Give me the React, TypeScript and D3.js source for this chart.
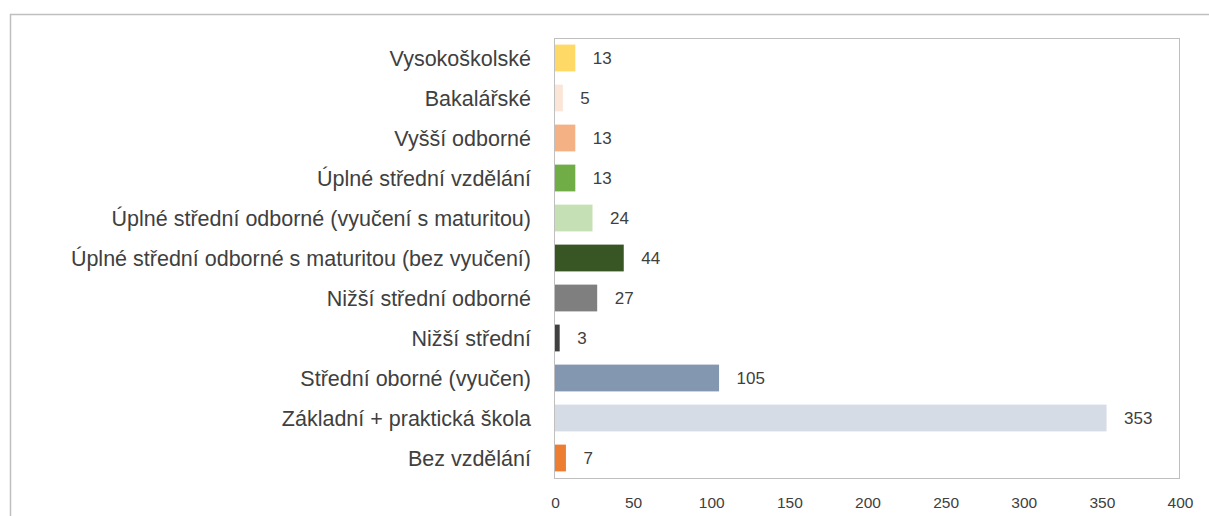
import { select, scaleLinear, scaleBand, axisBottom } from "d3";
import { useEffect, useRef } from "react";

const categories = [
  "Vysokoškolské",
  "Bakalářské",
  "Vyšší odborné",
  "Úplné střední vzdělání",
  "Úplné střední odborné (vyučení s maturitou)",
  "Úplné střední odborné s maturitou (bez vyučení)",
  "Nižší střední odborné",
  "Nižší střední",
  "Střední oborné (vyučen)",
  "Základní + praktická škola",
  "Bez vzdělání",
];
const counts = [13, 5, 13, 13, 24, 44, 27, 3, 105, 353, 7];
const barColors = [
  "#FFD966",
  "#FBE5D6",
  "#F4B183",
  "#70AD47",
  "#C5E0B4",
  "#375623",
  "#7F7F7F",
  "#404040",
  "#8497B0",
  "#D6DCE5",
  "#ED7D31",
];
const xTicks = [0, 50, 100, 150, 200, 250, 300, 350, 400];

const W = 1209;
const H = 516;
const FONT = "'Liberation Sans', Arial, sans-serif";

export default function App() {
  const ref = useRef<SVGSVGElement | null>(null);

  useEffect(() => {
    if (!ref.current) return;
    const svg = select(ref.current);
    svg.selectAll("*").remove();

    const plot = { left: 555, right: 1180, top: 38, bottom: 478 };

    const x = scaleLinear().domain([0, 400]).range([plot.left, plot.right]);
    const y = scaleBand<string>()
      .domain(categories)
      .range([plot.top, plot.bottom])
      .paddingInner(0.33)
      .paddingOuter(0.165);

    // chart area border (cut off at right and bottom)
    svg
      .append("path")
      .attr("d", `M10.5,${H + 2} V14.5 H${W + 2}`)
      .attr("fill", "none")
      .attr("stroke", "#BFBFBF")
      .attr("stroke-width", 1.5);

    // plot area border
    svg
      .append("rect")
      .attr("x", plot.left - 0.5)
      .attr("y", plot.top + 0.5)
      .attr("width", plot.right - plot.left)
      .attr("height", plot.bottom - plot.top)
      .attr("fill", "none")
      .attr("stroke", "#BFBFBF")
      .attr("stroke-width", 1);

    // bars
    svg
      .append("g")
      .selectAll("rect")
      .data(counts)
      .join("rect")
      .attr("x", x(0))
      .attr("y", (_, i) => y(categories[i])!)
      .attr("width", (d) => x(d) - x(0))
      .attr("height", y.bandwidth())
      .attr("fill", (_, i) => barColors[i]);

    // value labels
    svg
      .append("g")
      .selectAll("text")
      .data(counts)
      .join("text")
      .attr("x", (d) => x(d) + 17.5)
      .attr("y", (_, i) => y(categories[i])! + y.bandwidth() / 2)
      .attr("dy", "0.36em")
      .attr("font-family", FONT)
      .attr("font-size", 17)
      .attr("fill", "#404040")
      .text((d) => d);

    // category labels
    svg
      .append("g")
      .selectAll("text")
      .data(categories)
      .join("text")
      .attr("x", 531)
      .attr("y", (d) => y(d)! + y.bandwidth() / 2)
      .attr("dy", "0.36em")
      .attr("text-anchor", "end")
      .attr("font-family", FONT)
      .attr("font-size", 21.5)
      .attr("fill", "#404040")
      .text((d) => d);

    // x axis
    const ax = svg
      .append("g")
      .attr("transform", `translate(0,${plot.bottom})`)
      .call(axisBottom(x).tickValues(xTicks).tickSize(0).tickPadding(19));
    ax.select(".domain").remove();
    ax.selectAll("text")
      .attr("font-family", FONT)
      .attr("font-size", 15.5)
      .attr("fill", "#404040");
  }, []);

  return (
    <svg
      ref={ref}
      width={W}
      height={H}
      style={{ position: "absolute", left: 0, top: 0, background: "#fff" }}
    ></svg>
  );
}
